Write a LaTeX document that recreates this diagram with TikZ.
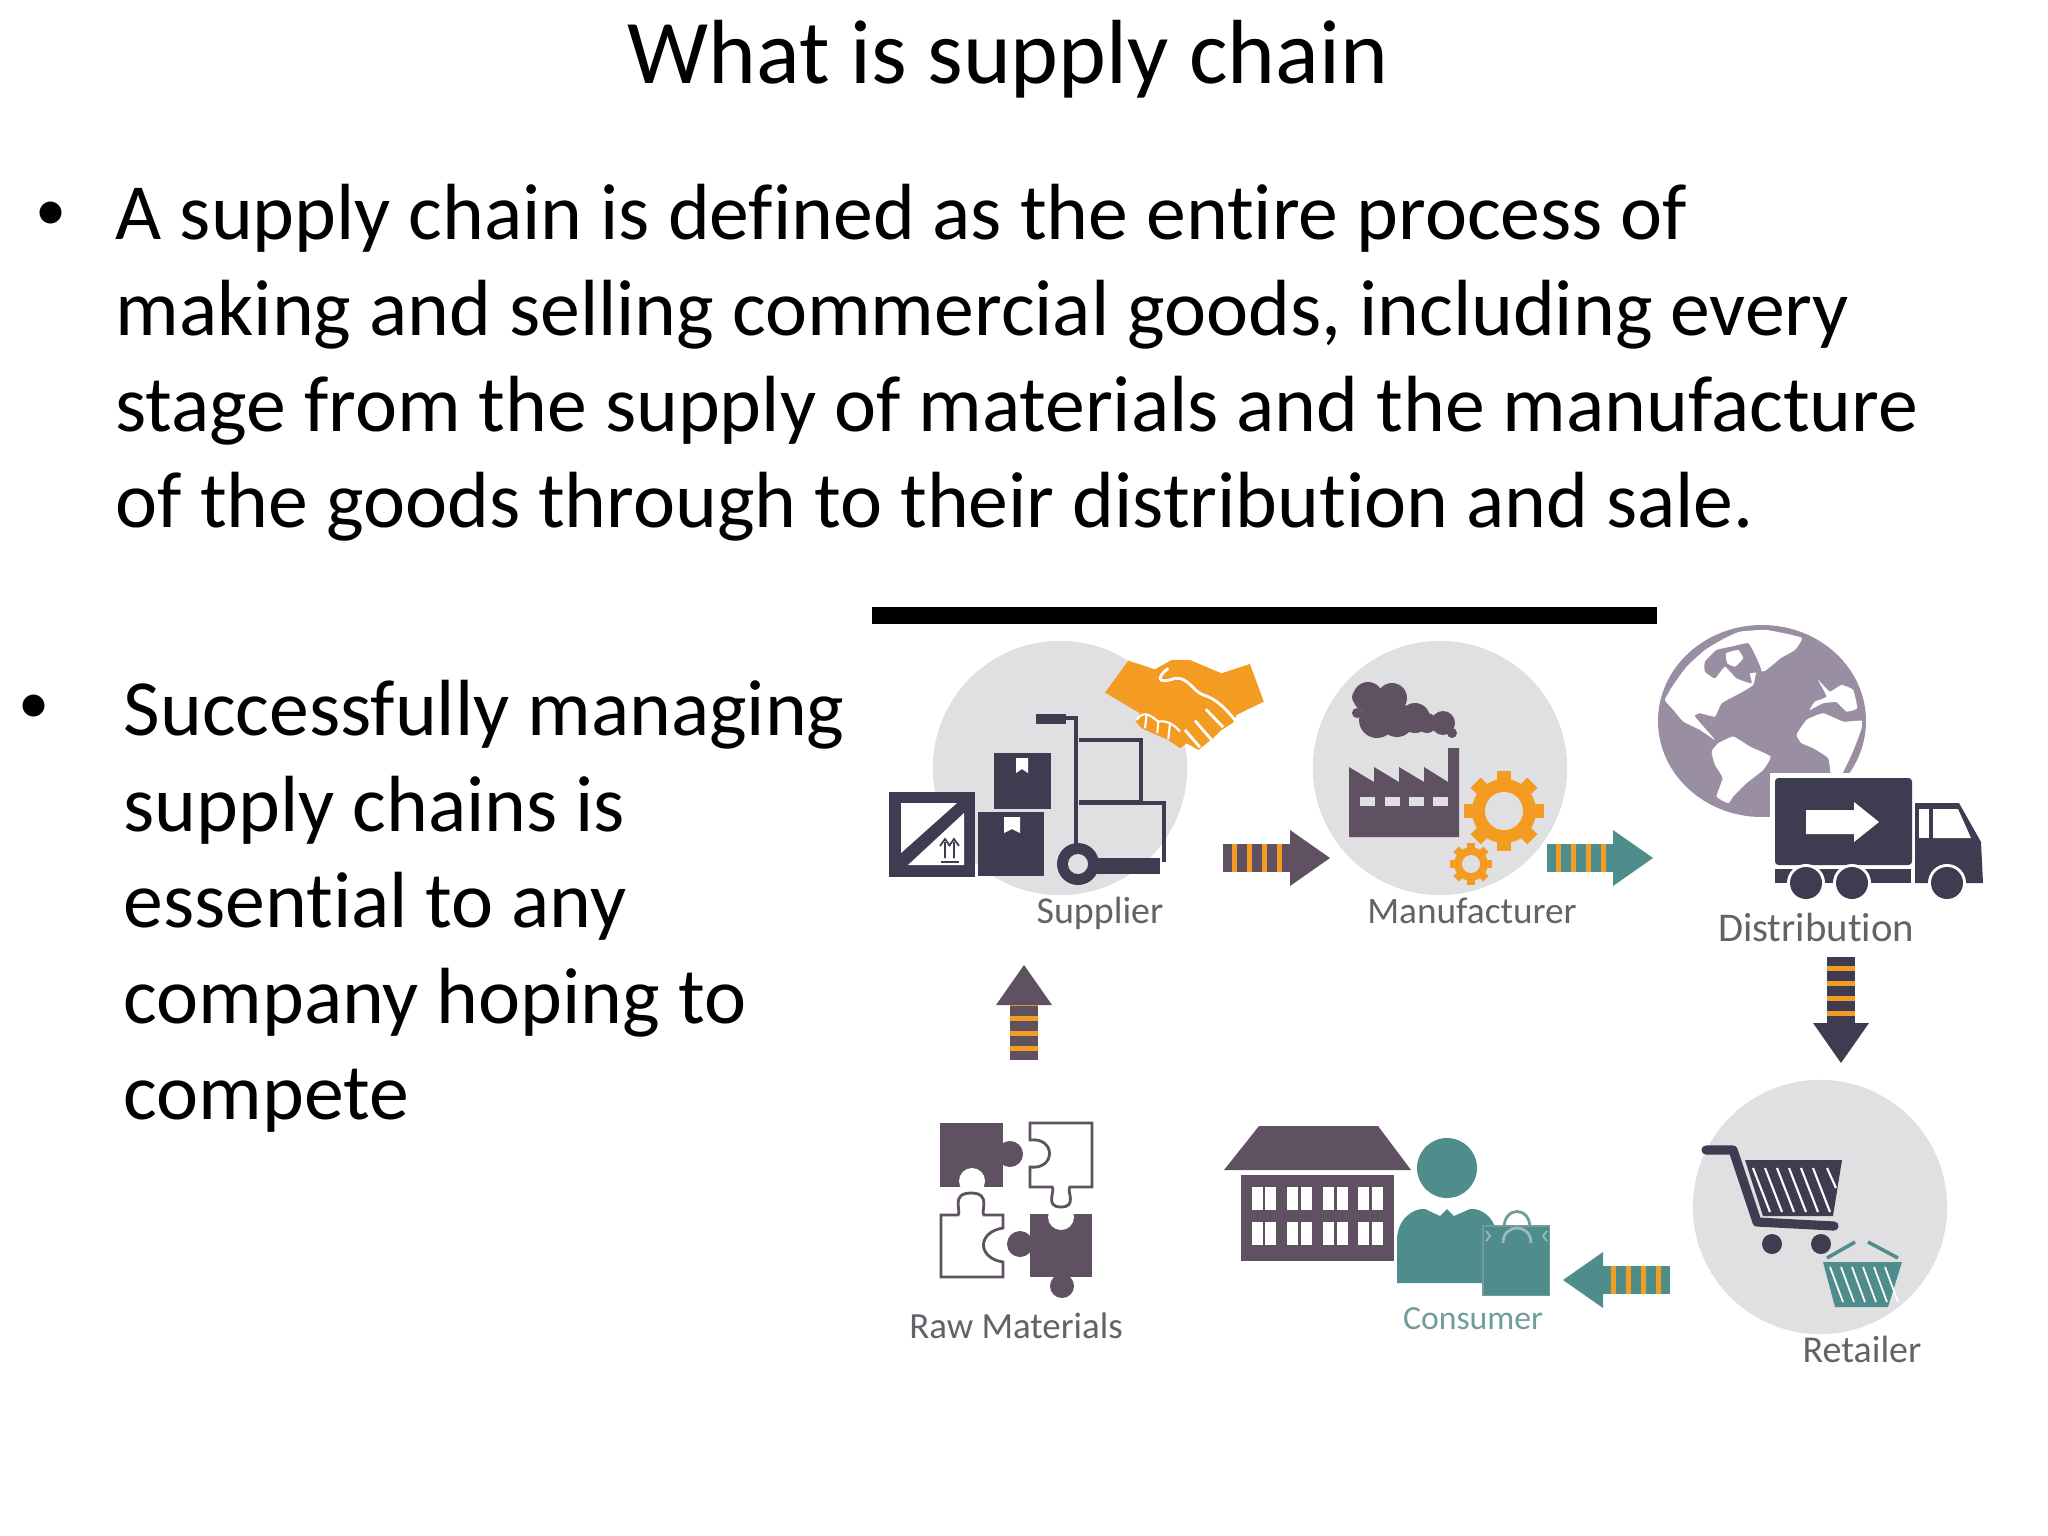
\documentclass[tikz,border=0pt]{standalone}
\usepackage{fontspec}
\setmainfont{Carlito}[Ligatures=NoCommon]

\definecolor{iconink}{HTML}{3F3B50}
\definecolor{plum}{HTML}{5F5062}
\definecolor{teal}{HTML}{4F8C8C}
\definecolor{amber}{HTML}{F49B22}
\definecolor{disc}{HTML}{E0E0E2}
\definecolor{globeink}{HTML}{9A8EA2}
\definecolor{labelgrey}{HTML}{626268}
\definecolor{labelteal}{HTML}{6F9C9C}

\tikzset{
    headline/.style={font=\fontsize{25.9}{30}\selectfont, inner sep=0, anchor=base},
    bodyline/.style={font=\fontsize{22.66}{27}\selectfont, inner sep=0, anchor=base west},
    bulletmark/.style={font=\fontsize{17.7}{21}\selectfont, inner sep=0, anchor=base west},
    steplabel/.style={font=\fontsize{10.8}{12}\selectfont, text=labelgrey, inner sep=0, anchor=base},
    stagedisc/.style={circle, fill=disc, minimum size=7.2cm*0.353, inner sep=0},
}

% striped block arrow: start, angle, shaft colour, head colour, length
\newcommand{\bandarrow}[5]{
    \begin{scope}[shift={(#1)},rotate=#2]
        \fill[#3] (0,-14) rectangle (#5-38,14);
        \foreach \s in {9,24,39,54}
            \fill[amber] (\s,-14) rectangle ++(5,28);
        \fill[#4] (#5-40,-28) -- (#5,0) -- (#5-40,28) -- cycle;
    \end{scope}
}

% gear: centre, outer radius, hole radius
\newcommand{\gearicon}[3]{
    \begin{scope}[shift={(#1)}]
        \foreach \a in {0,45,...,315}
            \fill[amber,rotate=\a] (-#2*0.18,0) rectangle (#2*0.18,#2);
        \fill[amber] (0,0) circle (#2*0.8);
        \fill[disc] (0,0) circle (#3);
    \end{scope}
}

\begin{document}
\begin{tikzpicture}[x=0.01cm,y=-0.01cm]
    \useasboundingbox (0,0) rectangle (2048,1536);

    % Text
    \node[headline] (title) at (1008,83) {What is supply chain};
    \node[bulletmark] (bulletone) at (35,230) {•};
    \node[bodyline] (lineone) at (115,239) {A supply chain is defined as the entire process of};
    \node[bodyline] (linetwo) at (115,335) {making and selling commercial goods, including every};
    \node[bodyline] (linethree) at (115,431) {stage from the supply of materials and the manufacture};
    \node[bodyline] (linefour) at (115,527) {of the goods through to their distribution and sale.};
    \node[bulletmark] (bullettwo) at (18,723) {•};
    \node[bodyline] (linefive) at (123,735) {Successfully managing};
    \node[bodyline] (linesix) at (123,831) {supply chains is};
    \node[bodyline] (lineseven) at (123,927) {essential to any};
    \node[bodyline] (lineeight) at (123,1023) {company hoping to};
    \node[bodyline] (linenine) at (123,1119) {compete};

    % Black bar
    \fill[black] (872,607) rectangle (1657,624);

    % Stage discs
    \node[stagedisc] (supplierdisc) at (1060,768) {};
    \node[stagedisc] (factorydisc) at (1440,768) {};
    \node[stagedisc] (retaildisc) at (1820,1207) {};

    % Supplier: crate
    \fill[iconink] (889,792) rectangle (975,877);
    \fill[white] (901,803) -- (957,803) -- (901,853) -- cycle;
    \fill[white] (964,813) -- (964,865) -- (908,865) -- cycle;
    \draw[iconink,line width=0.5pt] (945,858) -- (945,842) (940,846) -- (945,839) -- (950,846);
    \draw[iconink,line width=0.5pt] (954,858) -- (954,842) (949,846) -- (954,839) -- (959,846);
    \draw[iconink,line width=0.5pt] (941,862) -- (959,862);

    % Supplier: boxes
    \fill[iconink] (994,753) rectangle (1051,809);
    \fill[white] (1016,758) -- (1016,773) -- (1022,769) -- (1028,773) -- (1028,758) -- cycle;
    \fill[iconink] (978,812) rectangle (1044,876);
    \fill[white] (1004,817) -- (1004,833) -- (1012,829) -- (1020,833) -- (1020,817) -- cycle;

    % Supplier: trolley
    \fill[iconink] (1036,714) rectangle (1066,724);
    \draw[iconink,line width=1pt] (1060,718) -- (1076,718) -- (1076,850);
    \draw[iconink,line width=1pt] (1079,740) -- (1141,740) -- (1141,802) -- (1079,802);
    \draw[iconink,line width=1pt] (1079,803) -- (1164,803) -- (1164,862);
    \fill[iconink] (1090,858) rectangle (1160,874);
    \fill[iconink] (1078,864) circle (21);
    \fill[disc] (1078,864) circle (10);

    % Supplier: handshake
    \begin{scope}[shift={(1100,650)},scale=0.333]
        \fill[amber] (15,128) -- (85,32) -- (165,58) -- (215,30) -- (270,30) -- (365,70) -- (450,42) -- (492,155)
            -- (410,195) -- (400,218) -- (365,240) -- (340,265) -- (295,300) -- (260,280) -- (240,295)
            -- (205,270) -- (170,255) -- (125,235) -- (108,215) -- (120,190) -- cycle;
        \draw[white,line width=0.8pt] (205,55) .. controls (170,80) and (170,105) .. (225,85)
            .. controls (265,80) and (280,125) .. (310,135) .. controls (350,145) and (385,185) .. (405,210);
        \draw[white,line width=0.8pt] (318,178) -- (370,232) (285,212) -- (335,270) (255,240) -- (300,292);
        \draw[white,line width=0.6pt] (110,210) .. controls (130,180) and (150,195) .. (175,215)
            .. controls (200,210) and (225,225) .. (240,245);
        \draw[white,line width=0.6pt] (140,195) -- (135,235) (175,215) -- (172,250) (210,222) -- (205,268);
    \end{scope}

    % Manufacturer: smoke
    \foreach \cx/\cy/\cr in {1368/697/15,1392/698/15,1377/720/18,1397/720/17,1415/718/15,1427/723/10,1443/723/12,1452/733/5,1357/713/5,1360/697/8}
        \fill[plum] (\cx,\cy) circle (\cr);

    % Manufacturer: factory
    \fill[plum] (1349,767) -- (1374,782) -- (1374,767) -- (1399,782) -- (1399,767) -- (1424,782) -- (1424,767)
        -- (1448,782) -- (1448,748) -- (1459,748) -- (1459,837) -- (1349,837) -- cycle;
    \foreach \wx in {1360,1385,1409,1433}
        \fill[disc] (\wx,797) rectangle ++(15,9);

    % Manufacturer: gears
    \gearicon{1504,811}{40}{19}
    \gearicon{1471,864}{21}{9}

    % Distribution: globe
    \fill[globeink] (1762,721) ellipse (104 and 96);
    \begin{scope}
        \clip (1762,721) ellipse (100 and 92);
        \begin{scope}[shift={(1650,615)},scale=0.333]
            \fill[white] plot[smooth cycle,tension=0.25] coordinates {(45,255) (70,210) (110,155) (165,105) (220,72) (270,50) (350,45) (455,68) (435,105) (395,128) (345,168) (320,170) (310,210) (270,235) (215,265) (195,305) (150,295) (135,305) (195,375) (150,345) (100,320) (70,285)};
            \fill[globeink] plot[smooth cycle,tension=0.25] coordinates {(165,140) (200,105) (245,95) (295,85) (320,130) (335,170) (300,175) (305,205) (260,190) (225,155) (195,190) (165,170)};
            \fill[white] plot[smooth cycle,tension=0.25] coordinates {(228,115) (265,105) (280,130) (255,155) (232,145)};
            \fill[white] plot[smooth cycle,tension=0.25] coordinates {(185,410) (205,385) (250,365) (300,395) (362,425) (340,465) (290,505) (250,545) (235,565) (200,545) (218,490) (195,450)};
            \fill[white] plot[smooth cycle,tension=0.25] coordinates {(440,360) (470,315) (520,295) (580,320) (640,318) (625,370) (605,420) (570,490) (545,490) (535,430) (490,400) (455,385)};
            \fill[white] plot[smooth cycle,tension=0.25] coordinates {(480,285) (495,260) (530,245) (505,195) (540,230) (575,210) (610,225) (622,280) (590,290) (560,262) (520,265)};
        \end{scope}
    \end{scope}

    % Distribution: truck
    \fill[white] (1770,773) rectangle (1917,868);
    \fill[iconink,rounded corners=1pt] (1775,778) rectangle (1912,865);
    \fill[white] (1806,810) -- (1854,810) -- (1854,802) -- (1879,822) -- (1854,842) -- (1854,834) -- (1806,834) -- cycle;
    \fill[iconink] (1775,869) rectangle (1911,883);
    \fill[iconink] (1915,803) -- (1959,803) -- (1981,842) -- (1983,883) -- (1915,883) -- cycle;
    \fill[white] (1919,809) rectangle (1929,838);
    \fill[white] (1933,809) -- (1958,809) -- (1971,838) -- (1933,838) -- cycle;
    \foreach \wx in {1806,1852,1947} {
        \fill[white] (\wx,883) circle (19);
        \fill[iconink] (\wx,883) circle (16);
    }

    % Retailer: cart
    \draw[iconink,line width=2.6pt,line cap=round,line join=round] (1706,1150) -- (1733,1150) -- (1757,1222) -- (1834,1226);
    \fill[iconink] (1745,1160) -- (1842,1160) -- (1833,1216) -- (1763,1216) -- cycle;
    \foreach \k in {0,...,5}
        \draw[white,line width=0.6pt] (1753+12*\k,1168) -- (1770+12*\k,1212);
    \draw[white,line width=0.6pt] (1827,1168) -- (1836,1188);
    \fill[iconink] (1772,1244) circle (10);
    \fill[iconink] (1821,1244) circle (10);

    % Retailer: basket
    \fill[teal] (1823,1262) -- (1902,1262) -- (1888,1307) -- (1835,1307) -- cycle;
    \foreach \k in {0,...,5}
        \draw[white,line width=0.5pt] (1830+11*\k,1267) -- (1843+11*\k,1302);
    \draw[teal,line width=1pt] (1827,1258) -- (1855,1242) (1868,1242) -- (1898,1258);

    % Consumer: building
    \fill[plum] (1259,1126) -- (1378,1126) -- (1411,1170) -- (1224,1170) -- cycle;
    \fill[plum] (1241,1175) rectangle (1394,1261);
    \foreach \wx in {1252,1265,1287,1301,1323,1337,1358,1372}
        \foreach \wy in {1187,1222}
            \fill[white] (\wx,\wy) rectangle ++(11,23);

    % Consumer: person and bag
    \fill[teal] (1447,1168) circle (30);
    \fill[teal] (1397,1283) -- (1397,1240) .. controls (1397,1220) and (1412,1208) .. (1425,1209)
        -- (1440,1216) -- (1447,1209) -- (1454,1216) -- (1470,1209)
        .. controls (1484,1208) and (1497,1220) .. (1497,1240) -- (1497,1283) -- cycle;
    \draw[labelteal,line width=0.8pt] (1504,1228) .. controls (1504,1206) and (1530,1206) .. (1530,1228);
    \fill[labelteal] (1482,1225) rectangle (1550,1296);
    \fill[teal] (1484,1227) rectangle (1549,1295);
    \draw[labelteal!70,line width=0.8pt] (1503,1243) .. controls (1503,1223) and (1531,1223) .. (1531,1243);
    \draw[labelteal!70,line width=0.5pt] (1486,1231) -- (1490,1236) -- (1486,1241) (1547,1231) -- (1543,1236) -- (1547,1241);

    % Raw materials: puzzle
    \fill[plum] (940,1123) rectangle (1003,1187);
    \fill[plum] (1010,1154) circle (13);
    \fill[white] (972,1181) circle (13);
    \fill[plum] (1030,1214) rectangle (1092,1277);
    \fill[plum] (1020,1244) circle (13);
    \fill[plum] (1062,1286) circle (12);
    \fill[white] (1061,1217) circle (13);
    \draw[plum,line width=0.8pt] (1030,1140) -- (1030,1123) -- (1092,1123) -- (1092,1187) -- (1070,1187)
        .. controls (1066,1190) and (1078,1207) .. (1061,1207) .. controls (1044,1207) and (1056,1190) .. (1052,1187)
        -- (1030,1187) -- (1030,1167) .. controls (1056,1170) and (1056,1137) .. (1030,1140) -- cycle;
    \draw[plum,line width=0.8pt] (941,1215) -- (958,1215) .. controls (962,1212) and (950,1193) .. (971,1193)
        .. controls (992,1193) and (980,1212) .. (984,1215) -- (1003,1215) -- (1003,1228)
        .. controls (977,1232) and (977,1258) .. (1003,1262) -- (1003,1277) -- (941,1277) -- cycle;

    % Stage labels
    \node[steplabel] (supplierlabel) at (1100,923) {Supplier};
    \node[steplabel,font=\fontsize{10.6}{12}\selectfont] (factorylabel) at (1472,923) {Manufacturer};
    \node[steplabel,font=\fontsize{11.6}{12}\selectfont] (distlabel) at (1816,941) {Distribution};
    \node[steplabel,font=\fontsize{10.5}{12}\selectfont] (rawlabel) at (1016,1338) {Raw Materials};
    \node[steplabel,text=labelteal,font=\fontsize{9.6}{12}\selectfont] (consumerlabel) at (1473,1329) {Consumer};
    \node[steplabel] (retaillabel) at (1862,1362) {Retailer};

    % Arrow starts
    \coordinate (rawout) at (1024,1060);
    \coordinate (supplierout) at (1223,858);
    \coordinate (factoryout) at (1547,858);
    \coordinate (distout) at (1841,957);
    \coordinate (retailout) at (1670,1280);

    % Arrows
    \bandarrow{rawout}{90}{plum}{plum}{95}
    \bandarrow{supplierout}{0}{plum}{plum}{107}
    \bandarrow{factoryout}{0}{teal}{teal}{106}
    \bandarrow{distout}{-90}{iconink}{iconink}{106}
    \bandarrow{retailout}{180}{teal}{teal}{107}
\end{tikzpicture}
\end{document}
